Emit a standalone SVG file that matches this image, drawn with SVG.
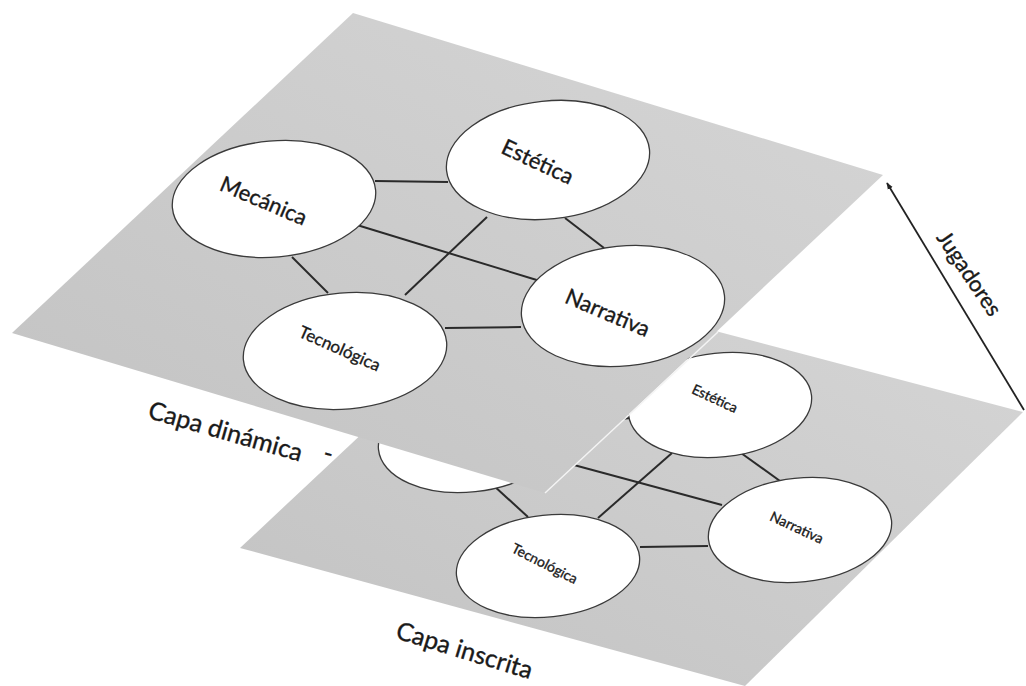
<svg xmlns="http://www.w3.org/2000/svg" width="1026" height="686" viewBox="0 0 1026 686">
  <defs>
    <linearGradient id="planeFill" x1="0" y1="1" x2="1" y2="0">
      <stop offset="0" stop-color="#c2c2c2"/>
      <stop offset="1" stop-color="#d6d6d6"/>
    </linearGradient>
    <marker id="arrowHead" viewBox="0 0 10 10" refX="9" refY="5" markerWidth="7" markerHeight="7" orient="auto-start-reverse" markerUnits="userSpaceOnUse">
      <path d="M0,1 L10,5 L0,9 z" fill="#222"/>
    </marker>
    <style>
      .plane { fill: url(#planeFill); }
      .node { fill: #ffffff; stroke: #3a3a3a; stroke-width: 1.3; }
      .link { stroke: #2a2a2a; stroke-width: 2; fill: none; }
      .label { font-family: Lato, "Open Sans", "Liberation Sans", sans-serif; fill: #1a1a1a; stroke: #1a1a1a; stroke-width: 0.35; text-anchor: middle; dominant-baseline: central; }
      .big { font-size: 22px; }
      .mid { font-size: 17px; }
      .small { font-size: 14px; }
      .caption { font-size: 25px; }
    </style>
  </defs>

  <rect width="1026" height="686" fill="#ffffff"/>

  <!-- lower layer -->
  <g id="capa-inscrita">
    <polygon class="plane" points="525,281 1023,412 745,686 240,548"/>
    <g id="lower-links">
      <line class="link" x1="548" y1="458" x2="722" y2="505"/>
      <line class="link" x1="540" y1="428" x2="630" y2="418"/>
      <line class="link" x1="493" y1="485" x2="528" y2="517"/>
      <line class="link" x1="672" y1="453" x2="598" y2="518"/>
      <line class="link" x1="741" y1="453" x2="780" y2="481"/>
      <line class="link" x1="640" y1="547" x2="708" y2="546"/>
    </g>
    <g id="lower-mecanica">
      <ellipse class="node" cx="470" cy="440" rx="92" ry="52" transform="rotate(-6 470 440)"/>
    </g>
    <g id="lower-estetica">
      <ellipse class="node" cx="720" cy="405" rx="92" ry="52" transform="rotate(-6 720 405)"/>
      <text class="label small" transform="translate(715 398) rotate(25)">Estética</text>
    </g>
    <g id="lower-narrativa">
      <ellipse class="node" cx="800" cy="530" rx="92" ry="52" transform="rotate(-6 800 530)"/>
      <text class="label small" transform="translate(797 527) rotate(25)">Narrativa</text>
    </g>
    <g id="lower-tecnologica">
      <ellipse class="node" cx="548" cy="566" rx="92" ry="51" transform="rotate(-6 548 566)"/>
      <text class="label small" transform="translate(545 563) rotate(27)">Tecnológica</text>
    </g>
  </g>

  <!-- upper layer -->
  <g id="capa-dinamica">
    <polygon class="plane" points="353,13 883,175 545,493 12,333"/>
    <line x1="718" y1="332" x2="545" y2="493" stroke="#f4f4f4" stroke-width="1.5"/>
    <g id="upper-links">
      <line class="link" x1="375" y1="181" x2="448" y2="182"/>
      <line class="link" x1="357" y1="225" x2="540" y2="281"/>
      <line class="link" x1="292" y1="257" x2="328" y2="293"/>
      <line class="link" x1="487" y1="217" x2="405" y2="295"/>
      <line class="link" x1="565" y1="218" x2="604" y2="248"/>
      <line class="link" x1="445" y1="328" x2="521" y2="327"/>
    </g>
    <g id="upper-mecanica">
      <ellipse class="node" cx="274" cy="199" rx="102" ry="58" transform="rotate(-5 274 199)"/>
      <text class="label big" transform="translate(264 200) rotate(23)">Mecánica</text>
    </g>
    <g id="upper-estetica">
      <ellipse class="node" cx="548" cy="160" rx="102" ry="59" transform="rotate(-6 548 160)"/>
      <text class="label big" transform="translate(538 161) rotate(25)">Estética</text>
    </g>
    <g id="upper-narrativa">
      <ellipse class="node" cx="623" cy="306" rx="102" ry="60" transform="rotate(-6 623 306)"/>
      <text class="label big" transform="translate(608 312) rotate(23)">Narrativa</text>
    </g>
    <g id="upper-tecnologica">
      <ellipse class="node" cx="345" cy="351" rx="102" ry="58" transform="rotate(-5 345 351)"/>
      <text class="label mid" transform="translate(340 348) rotate(24)">Tecnológica</text>
    </g>
  </g>

  <!-- interaction arrow -->
  <g id="connectors">
    <line x1="1024" y1="410" x2="887" y2="183" stroke="#222" stroke-width="1.8" marker-end="url(#arrowHead)"/>
  </g>

  <!-- captions -->
  <g id="captions">
    <text class="label caption" transform="translate(226 430) rotate(16)">Capa dinámica</text>
    <text class="label caption" transform="translate(329 452) rotate(16)">-</text>
    <text class="label caption" transform="translate(465 649) rotate(17)">Capa inscrita</text>
    <text class="label big" transform="translate(970 273) rotate(56)">Jugadores</text>
  </g>
</svg>
